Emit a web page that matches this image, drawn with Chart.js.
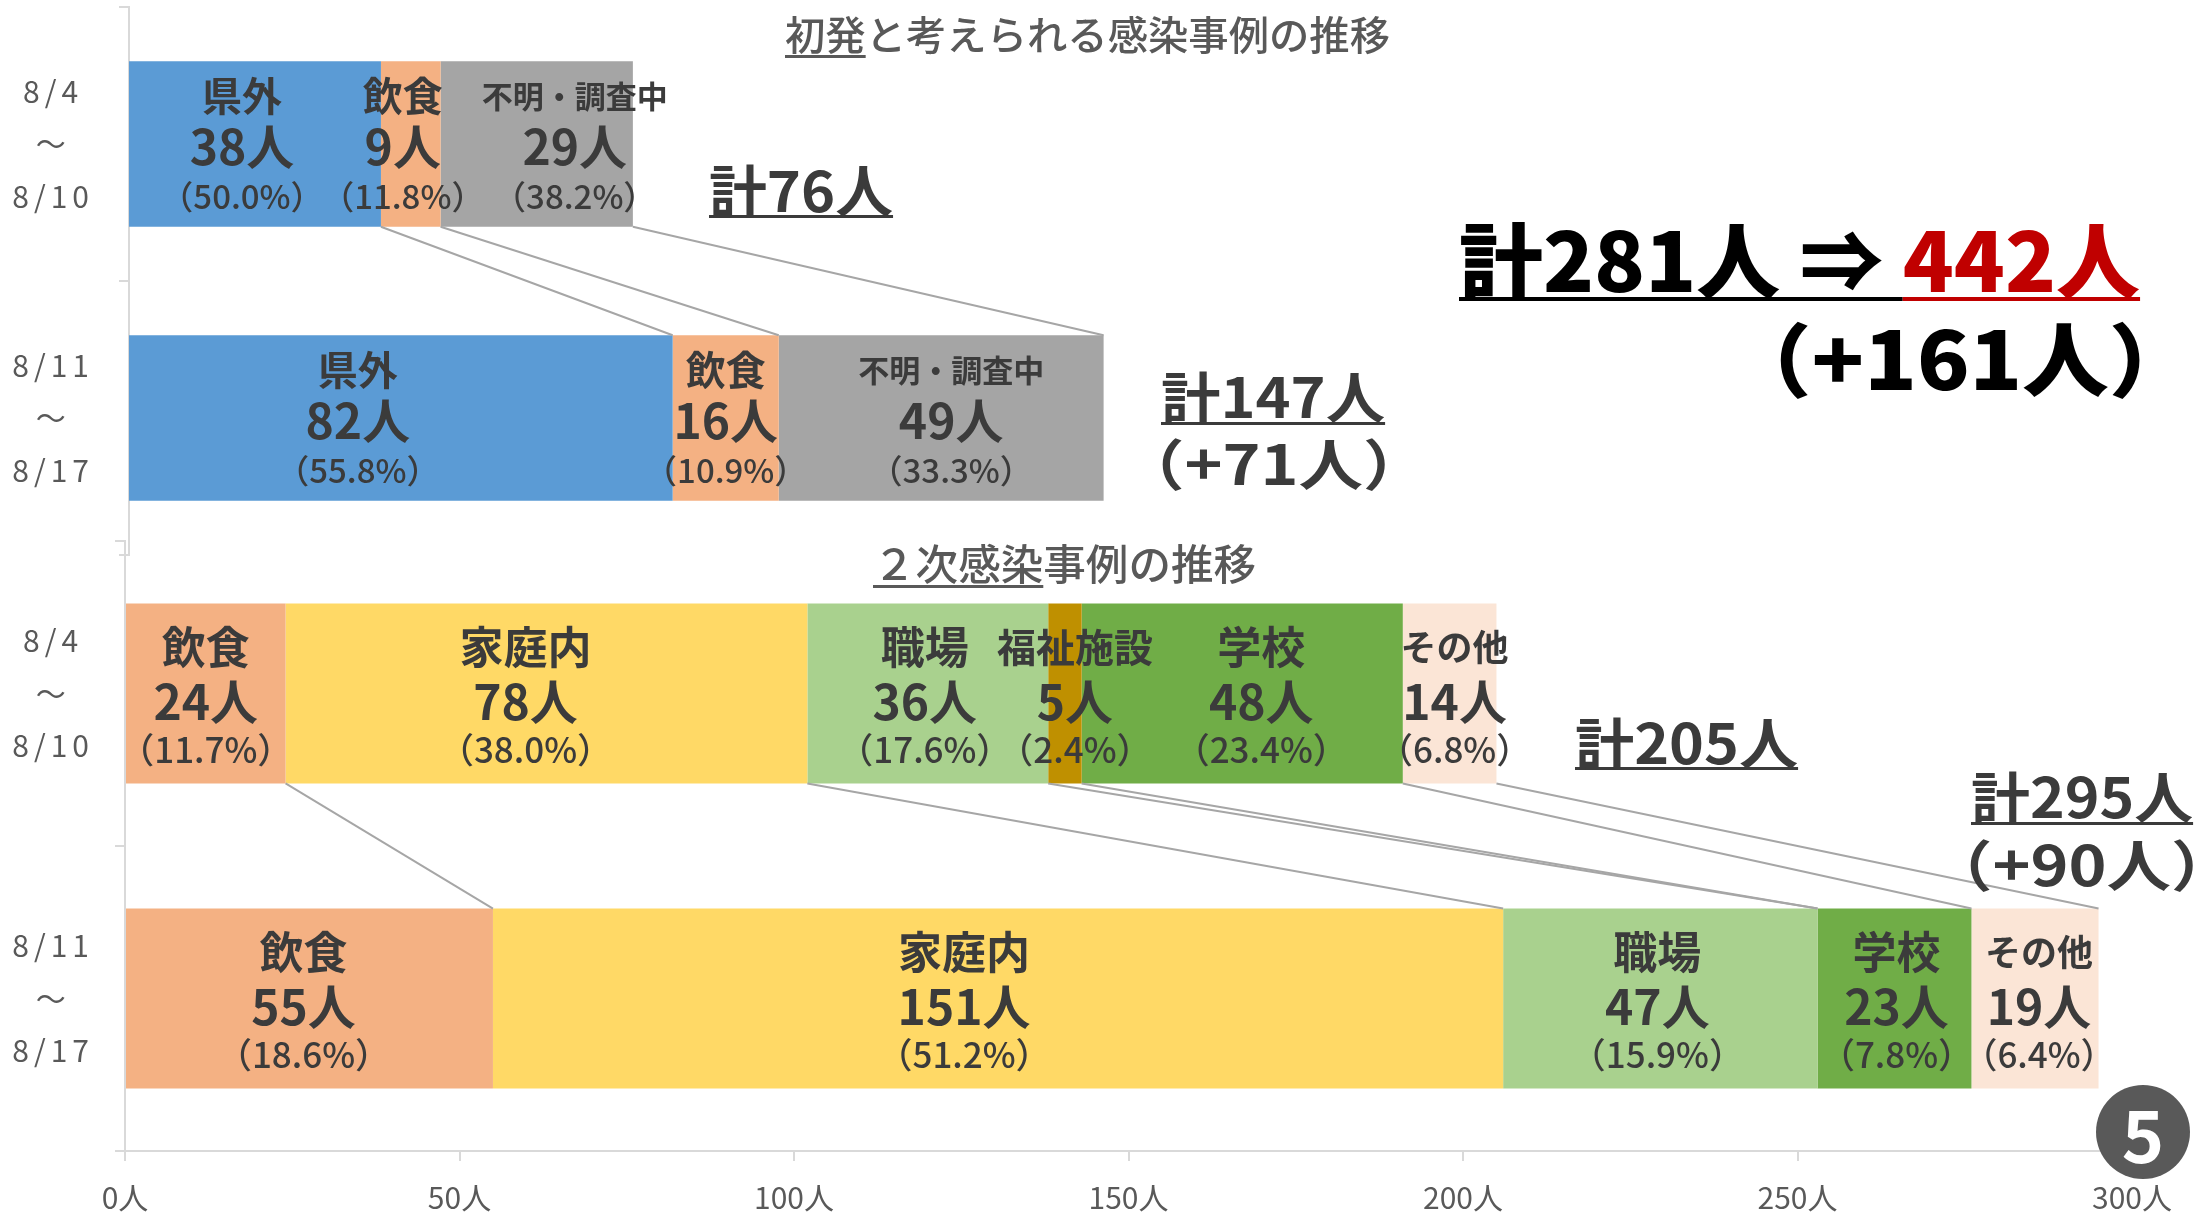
<!DOCTYPE html>
<html><head><meta charset="utf-8">
<script src="https://cdn.jsdelivr.net/npm/chart.js@4.4.1/dist/chart.umd.min.js"></script>
<style>
html,body{margin:0;padding:0;background:#fff;width:2197px;height:1216px;overflow:hidden;}
#wrap{position:relative;width:2197px;height:1216px;}
canvas{position:absolute;left:0;top:0;}
.t{position:absolute;white-space:nowrap;line-height:1;font-family:"Noto Sans CJK JP","Noto Sans",sans-serif;transform-origin:0 0;text-spacing-trim:space-all;font-kerning:none;}
.u{text-decoration:underline;text-decoration-skip-ink:none;}
#badge{position:absolute;left:2096px;top:1085px;width:94px;height:94px;border-radius:50%;background:#595959;color:#fff;font:700 72px/94px "Noto Sans CJK JP",sans-serif;text-align:center;}
</style></head>
<body><div id="wrap">
<canvas id="c1" width="2197" height="1216"></canvas>
<canvas id="c2" width="2197" height="1216"></canvas>
<div id="badge">5</div>
</div>
<script>
// ---------- data ----------
const PERIODS = [['8/4','～','8/10'], ['8/11','～','8/17']];
const X_TICKS = [0, 50, 100, 150, 200, 250, 300];
const X_UNIT = '人';

// 初発と考えられる感染事例
const F_CATS = ['県外', '飲食', '不明・調査中'];
const F_KENGAI = [38, 82];
const F_INSHOKU = [9, 16];
const F_FUMEI = [29, 49];
const F_KENGAI_PCT = ['50.0', '55.8'];
const F_INSHOKU_PCT = ['11.8', '10.9'];
const F_FUMEI_PCT = ['38.2', '33.3'];

// 2次感染事例
const S_CATS = ['飲食', '家庭内', '職場', '福祉施設', '学校', 'その他'];
const S_INSHOKU = [24, 55];
const S_KATEI = [78, 151];
const S_SHOKUBA = [36, 47];
const S_FUKUSHI = [5, 0];
const S_GAKKO = [48, 23];
const S_SONOTA = [14, 19];
const S_INSHOKU_PCT = ['11.7', '18.6'];
const S_KATEI_PCT = ['38.0', '51.2'];
const S_SHOKUBA_PCT = ['17.6', '15.9'];
const S_FUKUSHI_PCT = ['2.4', ''];
const S_GAKKO_PCT = ['23.4', '7.8'];
const S_SONOTA_PCT = ['6.8', '6.4'];

// ---------- styles ----------
const F_COLORS = ['#5B9BD5', '#F4B183', '#A5A5A5'];
const S_COLORS = ['#F4B183', '#FFD966', '#A9D18E', '#BF9000', '#70AD47', '#FBE5D6'];
const LABEL_COLOR = '#3B3B3B';
const AXIS_COLOR = '#D9D9D9';
const TICK_COLOR = '#595959';
const JP = '"Noto Sans CJK JP","Noto Sans",sans-serif';

const barLabelPlugin = {
  id: 'barLabels',
  beforeDraw(chart) {
    const ys = chart.scales.y;
    if (ys && !ys._lsPatched) {
      const orig = ys.drawLabels;
      ys.drawLabels = function (a) {
        const c = this.ctx; c.save();
        if ('letterSpacing' in c) c.letterSpacing = '5px';
        orig.call(this, a); c.restore();
      };
      ys._lsPatched = true;
    }
  },
  afterDatasetsDraw(chart, args, o) {
    const ctx = chart.ctx;
    ctx.save();
    ctx.strokeStyle = '#A6A6A6';
    ctx.lineWidth = 2;
    chart.data.datasets.forEach((ds, i) => {
      const m = chart.getDatasetMeta(i);
      const a = m.data[0], b = m.data[1];
      ctx.beginPath();
      ctx.moveTo(a.x, a.y + a.height / 2);
      ctx.lineTo(b.x, b.y - b.height / 2);
      ctx.stroke();
    });
    ctx.fillStyle = LABEL_COLOR;
    ctx.textAlign = 'center';
    ctx.textBaseline = 'middle';
    chart.data.datasets.forEach((ds, i) => {
      const m = chart.getDatasetMeta(i);
      m.data.forEach((el, j) => {
        if (!ds.data[j]) return;
        const cx = (el.x + el.base) / 2 + ((o.nudge[i] && o.nudge[i][j]) || 0);
        const cy = el.y;
        ctx.font = `700 ${o.nameSize[i]}px ${JP}`;
        ctx.fillText(ds.label, cx, cy + o.dy[0]);
        ctx.font = `700 ${o.countSize}px ${JP}`;
        ctx.fillText(ds.data[j] + '人', cx, cy + o.dy[1]);
        ctx.font = `500 ${o.pctSize}px ${JP}`;
        ctx.fillText('（' + ds.pct[j] + '%）', cx, cy + o.dy[2]);
      });
    });
    ctx.restore();
  }
};

function yAxis(width, pad) {
  return {
    type: 'category', stacked: true, offset: true,
    grid: { offset: true, drawOnChartArea: false, drawTicks: true, tickLength: 10, color: AXIS_COLOR, lineWidth: 2 },
    border: { display: true, color: AXIS_COLOR, width: 2 },
    ticks: { color: TICK_COLOR, crossAlign: 'center', padding: pad, autoSkip: false,
      font: { family: JP, size: 30, weight: '400', lineHeight: 1.75 } },
    afterFit(s) { s.width = width; s.paddingTop = 0; s.paddingBottom = 0; s.paddingLeft = 0; s.paddingRight = 0; }
  };
}

function makeDatasets(cats, vals, pcts, colors, bp) {
  return cats.map((c, i) => ({
    label: c, data: vals[i], pct: pcts[i], backgroundColor: colors[i],
    borderWidth: 0, categoryPercentage: 1, barPercentage: bp
  }));
}

function build() {
  Chart.defaults.font.family = JP;
  new Chart(document.getElementById('c1'), {
    type: 'bar',
    data: {
      labels: PERIODS,
      datasets: makeDatasets(F_CATS, [F_KENGAI, F_INSHOKU, F_FUMEI],
        [F_KENGAI_PCT, F_INSHOKU_PCT, F_FUMEI_PCT], F_COLORS, 0.604)
    },
    options: {
      indexAxis: 'y', responsive: false, animation: false, devicePixelRatio: 1,
      layout: { padding: { left: 0, top: 7, right: 79, bottom: 661 } },
      plugins: {
        legend: { display: false }, tooltip: { enabled: false },
        barLabels: { nameSize: [40, 40, 31], countSize: 48, pctSize: 33, dy: [-48, 3, 52],
          nudge: [[-13, -43], [-8, 0], [38, 10]] }
      },
      scales: {
        x: { type: 'linear', stacked: true, min: 0, max: 300, display: false },
        y: yAxis(129, 35)
      }
    },
    plugins: [barLabelPlugin]
  });

  new Chart(document.getElementById('c2'), {
    type: 'bar',
    data: {
      labels: PERIODS,
      datasets: makeDatasets(S_CATS, [S_INSHOKU, S_KATEI, S_SHOKUBA, S_FUKUSHI, S_GAKKO, S_SONOTA],
        [S_INSHOKU_PCT, S_KATEI_PCT, S_SHOKUBA_PCT, S_FUKUSHI_PCT, S_GAKKO_PCT, S_SONOTA_PCT], S_COLORS, 0.59)
    },
    options: {
      indexAxis: 'y', responsive: false, animation: false, devicePixelRatio: 1,
      layout: { padding: { left: 0, top: 541, right: 65, bottom: 0 } },
      plugins: {
        legend: { display: false }, tooltip: { enabled: false },
        barLabels: { nameSize: [44, 44, 44, 39, 44, 36], countSize: 48, pctSize: 35, dy: [-46, 8, 56],
          nudge: [[0, -6], [-21, -34], [-3, -3], [10, 0], [19, 2], [5, 4]] }
      },
      scales: {
        x: {
          type: 'linear', stacked: true, min: X_TICKS[0], max: X_TICKS[X_TICKS.length - 1],
          afterBuildTicks(s) { s.ticks = X_TICKS.map(v => ({ value: v })); },
          grid: { drawOnChartArea: false, drawTicks: true, tickLength: 10, color: AXIS_COLOR, lineWidth: 2 },
          border: { display: true, color: AXIS_COLOR, width: 2 },
          ticks: { color: TICK_COLOR, padding: 19, maxRotation: 0,
            font: { family: JP, size: 30, weight: '400' },
            callback: v => v + X_UNIT },
          afterFit(s) { s.height = 65; s.paddingLeft = 0; s.paddingRight = 0; }
        },
        y: yAxis(125, 31)
      }
    },
    plugins: [barLabelPlugin]
  });
}

// ---------- free text (titles and totals); x0/x1 = ink extent ----------
const NOTES = [
  { html: '<span class="u" style="text-decoration-thickness:2.5px;text-underline-offset:5px">初発</span>と考えられる感染事例の推移',
    x0: 785, x1: 1389, base: 50, size: 40, weight: 500, color: '#595959' },
  { html: '<span class="u" style="text-decoration-thickness:2.5px;text-underline-offset:5px">２次感染</span>事例の推移',
    x0: 882, x1: 1255, base: 580, size: 42, weight: 500, color: '#595959' },
  { html: '<span class="u" style="text-decoration-thickness:3px;text-underline-offset:3px">計76人</span>',
    x0: 710, x1: 893, base: 212, size: 56, weight: 700, color: '#3B3B3B' },
  { html: '<span class="u" style="text-decoration-thickness:3px;text-underline-offset:4px">計147人</span>',
    x0: 1162, x1: 1385, base: 418, size: 55, weight: 700, color: '#3B3B3B' },
  { html: '（+71人）', x0: 1162, x1: 1385, base: 485, size: 55, weight: 700, color: '#3B3B3B' },
  { html: '<span class="u" style="text-decoration-thickness:3px;text-underline-offset:3px">計205人</span>',
    x0: 1576, x1: 1798, base: 764, size: 55, weight: 700, color: '#3B3B3B' },
  { html: '<span class="u" style="text-decoration-thickness:3px;text-underline-offset:4px">計295人</span>',
    x0: 1972, x1: 2193, base: 818, size: 55, weight: 700, color: '#3B3B3B' },
  { html: '（+90人）', x0: 1970, x1: 2193, base: 886, size: 55, weight: 700, color: '#3B3B3B' },
  { html: '<span class="u" style="text-decoration-thickness:4px;text-underline-offset:5px;color:#000">計281人 ⇒ </span><span class="u" style="text-decoration-thickness:4px;text-underline-offset:5px;color:#C00000">442人</span>',
    x0: 1461, x1: 2140, base: 293, size: 82, weight: 900, color: '#000' },
  { html: '（+161人）', x0: 1780, x1: 2140, base: 390, size: 80, weight: 900, color: '#000' }
];

function placeNotes() {
  const wrap = document.getElementById('wrap');
  const mc = document.createElement('canvas').getContext('2d');
  NOTES.forEach(n => {
    const d = document.createElement('div');
    d.className = 't';
    d.innerHTML = n.html;
    d.style.top = (n.base - 0.936 * n.size) + 'px';
    d.style.fontSize = n.size + 'px';
    d.style.fontWeight = n.weight;
    d.style.color = n.color;
    mc.font = `${n.weight} ${n.size}px ${JP}`;
    const m = mc.measureText(d.textContent);
    const inkStart = -m.actualBoundingBoxLeft;
    const inkEnd = m.actualBoundingBoxRight;
    const s = (n.x1 - n.x0) / Math.max(1, inkEnd - inkStart);
    d.style.left = (n.x0 - s * inkStart) + 'px';
    d.style.transform = `scaleX(${s})`;
    wrap.appendChild(d);
  });
}

const ready = (document.fonts && document.fonts.load)
  ? Promise.all([
      document.fonts.load('700 40px "Noto Sans CJK JP"'),
      document.fonts.load('400 30px "Noto Sans CJK JP"'),
      document.fonts.load('500 30px "Noto Sans CJK JP"'),
      document.fonts.load('900 80px "Noto Sans CJK JP"')
    ]).catch(() => {})
  : Promise.resolve();
ready.then(() => { build(); placeNotes(); });
</script>
</body></html>
